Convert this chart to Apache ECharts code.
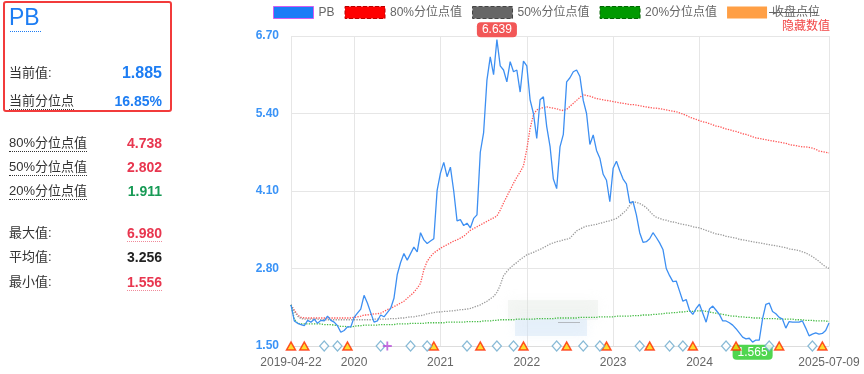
<!DOCTYPE html>
<html><head><meta charset="utf-8">
<script src="https://cdn.jsdelivr.net/npm/echarts@6/dist/echarts.min.js"></script>
<style>
html,body{margin:0;padding:0;background:#fff;}
#wrap{position:relative;width:864px;height:374px;overflow:hidden;font-family:"Liberation Sans",Arial,"Noto Sans CJK SC",sans-serif;}
#chart{position:absolute;left:0;top:0;width:864px;height:374px;}
#panel{position:absolute;left:0;top:0;width:180px;height:374px;}
.box{position:absolute;left:3px;top:1px;width:165px;height:107px;border:2px solid #f23b3b;border-radius:3px;}
.pb{position:absolute;left:9px;top:3px;font-size:23px;color:#1d7df3;line-height:28px;}
.pbline{position:absolute;left:10px;top:31px;width:31px;border-top:1px dotted #1d7df3;}
.row{position:absolute;left:9px;width:153px;height:20px;line-height:20px;}
.lab{position:absolute;left:0;top:0;font-size:13px;color:#333;}
.val{position:absolute;right:0;top:0;font-weight:bold;font-size:14px;}
.dot{display:inline-block;line-height:16px;border-bottom:1px dotted #333;}
.dotr{display:inline-block;line-height:16px;border-bottom:1px dotted #f08a9a;}
</style>
</head><body>
<div id="wrap">
  <div id="chart"></div>
  <div id="panel">
    <div class="box"></div>
    <div class="pb">PB</div>
    <div class="pbline"></div>
    <div class="row" style="top:63px"><span class="lab">当前值:</span><span class="val" style="color:#1d7df3;font-size:16px">1.885</span></div>
    <div class="row" style="top:91px"><span class="lab"><span class="dot">当前分位点</span></span><span class="val" style="color:#1d7df3;font-size:14px">16.85%</span></div>
    <div class="row" style="top:133px"><span class="lab"><span class="dot">80%分位点值</span></span><span class="val" style="color:#e8364f">4.738</span></div>
    <div class="row" style="top:157px"><span class="lab"><span class="dot">50%分位点值</span></span><span class="val" style="color:#e8364f">2.802</span></div>
    <div class="row" style="top:181px"><span class="lab"><span class="dot">20%分位点值</span></span><span class="val" style="color:#179a55">1.911</span></div>
    <div class="row" style="top:223px"><span class="lab">最大值:</span><span class="val" style="color:#e8364f"><span class="dotr">6.980</span></span></div>
    <div class="row" style="top:247px"><span class="lab">平均值:</span><span class="val" style="color:#222">3.256</span></div>
    <div class="row" style="top:272px"><span class="lab">最小值:</span><span class="val" style="color:#e8364f"><span class="dotr">1.556</span></span></div>
  </div>
</div>
<script>
const startDate = '2019-04-22';
const endDate = '2025-07-09';
const stepDays = 14;
const yearLabels = ['2020','2021','2022','2023','2024'];

const pbValues = [
2.19,1.92,1.88,1.86,1.84,1.93,1.90,1.95,1.88,1.93,
1.92,2.00,1.93,1.90,1.84,1.73,1.76,1.82,1.82,1.98,
2.05,2.12,2.35,2.22,2.06,1.90,1.92,2.02,1.99,2.06,
2.13,2.30,2.70,2.90,3.05,2.94,3.05,3.16,3.08,3.40,
3.28,3.22,3.26,3.30,4.11,4.40,4.58,4.34,4.50,4.10,
3.60,3.62,3.52,3.56,3.48,3.64,3.70,4.75,5.08,5.96,
6.35,6.05,6.639,6.20,6.13,5.93,6.27,6.10,6.13,5.76,
6.28,6.20,5.63,5.40,4.98,5.63,5.68,5.18,4.85,4.30,
4.14,4.84,5.05,5.93,6.00,6.10,6.13,6.02,5.62,5.40,
4.88,5.04,4.78,4.65,4.38,4.28,3.92,4.48,4.60,4.44,
4.30,4.22,3.90,3.92,3.70,3.40,3.24,3.25,3.30,3.40,
3.32,3.23,3.12,2.80,2.68,2.58,2.59,2.42,2.25,2.28,
2.10,2.03,2.13,2.20,2.05,1.90,2.12,2.17,2.10,2.03,
1.92,1.92,1.89,1.85,1.79,1.72,1.65,1.62,1.63,1.565,
1.60,1.60,1.96,2.20,2.22,2.08,2.04,1.98,1.95,1.80,
1.91,1.90,1.90,1.90,1.92,1.80,1.67,1.70,1.72,1.70,
1.71,1.76,1.885
];
const p80Values = [
2.19,2.10,2.02,1.98,1.97,1.97,1.97,1.97,1.97,1.97,
1.97,1.97,1.97,1.97,1.97,1.97,1.97,1.97,1.97,1.98,
1.99,2.00,2.02,2.02,2.03,2.04,2.04,2.05,2.08,2.11,
2.13,2.16,2.19,2.22,2.25,2.30,2.35,2.40,2.47,2.55,
2.78,2.92,3.00,3.06,3.10,3.14,3.17,3.20,3.23,3.26,
3.28,3.31,3.34,3.39,3.44,3.47,3.50,3.53,3.56,3.59,
3.62,3.65,3.68,3.78,3.90,4.01,4.12,4.23,4.33,4.42,
4.52,4.80,5.15,5.38,5.46,5.48,5.50,5.51,5.50,5.49,
5.48,5.46,5.45,5.47,5.52,5.57,5.62,5.67,5.72,5.70,
5.69,5.67,5.65,5.64,5.63,5.62,5.61,5.60,5.59,5.58,
5.57,5.56,5.55,5.55,5.54,5.53,5.52,5.51,5.50,5.49,
5.49,5.48,5.47,5.46,5.45,5.44,5.43,5.41,5.39,5.37,
5.34,5.32,5.30,5.28,5.26,5.25,5.23,5.21,5.19,5.18,
5.16,5.14,5.13,5.11,5.10,5.08,5.06,5.05,5.03,5.01,
4.99,4.98,4.97,4.96,4.95,4.94,4.93,4.92,4.91,4.90,
4.88,4.87,4.86,4.85,4.84,4.84,4.83,4.82,4.80,4.77,
4.76,4.75,4.738
];
const p50Values = [
2.19,2.08,2.00,1.96,1.95,1.95,1.95,1.95,1.95,1.94,
1.94,1.94,1.94,1.94,1.94,1.94,1.94,1.94,1.94,1.94,
1.94,1.94,1.94,1.94,1.94,1.95,1.95,1.95,1.95,1.95,
1.96,1.96,1.96,1.97,1.97,1.98,1.99,1.99,2.00,2.01,
2.02,2.04,2.05,2.06,2.07,2.07,2.08,2.08,2.09,2.09,
2.10,2.11,2.11,2.12,2.13,2.15,2.17,2.19,2.22,2.25,
2.29,2.33,2.40,2.52,2.68,2.75,2.81,2.86,2.90,2.95,
2.99,3.03,3.05,3.07,3.10,3.12,3.15,3.18,3.21,3.23,
3.25,3.26,3.28,3.29,3.31,3.37,3.43,3.46,3.49,3.51,
3.52,3.53,3.54,3.56,3.57,3.59,3.60,3.62,3.64,3.68,
3.73,3.78,3.86,3.92,3.91,3.89,3.86,3.82,3.76,3.70,
3.66,3.64,3.62,3.61,3.59,3.58,3.57,3.55,3.54,3.53,
3.52,3.50,3.49,3.48,3.46,3.44,3.42,3.40,3.38,3.37,
3.36,3.34,3.33,3.32,3.31,3.29,3.28,3.27,3.26,3.25,
3.24,3.23,3.22,3.21,3.20,3.19,3.18,3.17,3.16,3.15,
3.13,3.12,3.11,3.10,3.08,3.06,3.03,3.00,2.96,2.92,
2.87,2.83,2.802
];
const p20Values = [
2.19,1.95,1.88,1.87,1.87,1.87,1.87,1.87,1.87,1.87,
1.86,1.86,1.86,1.85,1.84,1.83,1.83,1.82,1.82,1.83,
1.84,1.84,1.85,1.85,1.85,1.85,1.85,1.86,1.86,1.86,
1.86,1.86,1.87,1.87,1.87,1.87,1.88,1.88,1.88,1.88,
1.88,1.89,1.89,1.89,1.89,1.89,1.89,1.90,1.90,1.90,
1.90,1.90,1.90,1.91,1.91,1.91,1.91,1.91,1.92,1.92,
1.92,1.93,1.93,1.94,1.94,1.94,1.94,1.94,1.95,1.95,
1.95,1.95,1.95,1.95,1.96,1.96,1.96,1.96,1.96,1.96,
1.97,1.97,1.97,1.97,1.97,1.97,1.97,1.98,1.98,1.98,
1.98,1.98,1.98,1.99,1.99,1.99,1.99,1.99,2.00,2.00,
2.00,2.00,2.00,2.01,2.01,2.01,2.02,2.02,2.02,2.03,
2.03,2.04,2.04,2.05,2.05,2.06,2.06,2.07,2.07,2.08,
2.08,2.08,2.09,2.09,2.09,2.08,2.07,2.06,2.05,2.04,
2.03,2.02,2.01,2.00,2.00,1.99,1.99,1.98,1.98,1.97,
1.97,1.97,1.96,1.96,1.96,1.96,1.96,1.95,1.95,1.95,
1.95,1.95,1.94,1.94,1.94,1.93,1.93,1.93,1.92,1.92,
1.92,1.92,1.911
];
const yMin = 1.5, yMax = 6.7, yStep = 1.3;
const triangleDates = ['2019-04-22','2019-06-24','2019-12-23','2020-12-21','2021-06-28','2021-12-27','2022-06-27','2022-12-19','2023-06-12','2023-12-11','2024-06-17','2024-12-16','2025-06-16'];
const diamondDates = ['2019-09-12','2019-11-08','2020-05-06','2020-09-09','2020-11-12','2021-05-10','2021-09-12','2021-11-14','2022-05-14','2022-09-09','2022-11-09','2023-05-03','2023-08-31','2023-10-31','2024-04-25','2024-10-28','2025-04-29'];
const plusDates = ['2020-06-06'];
const legendNames = ['PB','80%分位点值','50%分位点值','20%分位点值','收盘点位'];

function fmt(d){const m=d.getUTCMonth()+1, dd=d.getUTCDate();return d.getUTCFullYear()+'-'+(m<10?'0':'')+m+'-'+(dd<10?'0':'')+dd;}
function toMs(s){const p=s.split('-');return Date.UTC(+p[0],+p[1]-1,+p[2]);}
const N = pbValues.length;
const t0 = toMs(startDate);
const categories = [];
for (let i=0;i<N;i++) categories.push(fmt(new Date(t0 + i*stepDays*86400000)));
categories[N-1] = endDate;
const catMs = categories.map(toMs);
const showIdx = new Set([0, N-1]);
for (let i=1;i<N-1;i++) {
  const y = categories[i].slice(0,4);
  if (y!==categories[i-1].slice(0,4) && yearLabels.indexOf(y)>=0) showIdx.add(i);
}
function nearest(s){const t=toMs(s);let b=0,bd=Infinity;catMs.forEach((m,i)=>{const d=Math.abs(m-t);if(d<bd){bd=d;b=i;}});return categories[b];}
const markerY = yMin;

const chart = echarts.init(document.getElementById('chart'));
const font = '"Liberation Sans", Arial, "Noto Sans CJK SC", sans-serif';
chart.setOption({
  animation:false,
  textStyle:{fontFamily:font},
  grid:{left:291,right:35,top:36,bottom:28},
  legend:{
    left:273, top:6, padding:0, itemWidth:40, itemHeight:12, itemGap:10, selectedMode:false,
    textStyle:{color:'#666', fontSize:12, fontFamily:font},
    data:[
      {name:legendNames[0], icon:'rect', itemStyle:{color:'#1a7cf7', borderColor:'#d35cf2', borderWidth:1}},
      {name:legendNames[1], icon:'rect', itemStyle:{color:'#ff0000', borderColor:'#bb0000', borderWidth:1, borderType:'dashed'}},
      {name:legendNames[2], icon:'rect', itemStyle:{color:'#666666', borderColor:'#444444', borderWidth:1, borderType:'dashed'}},
      {name:legendNames[3], icon:'rect', itemStyle:{color:'#009900', borderColor:'#006600', borderWidth:1, borderType:'dashed'}},
      {name:legendNames[4], icon:'rect', itemStyle:{color:'#ff9f45', borderWidth:0}}
    ]
  },
  xAxis:{
    type:'category', data:categories, boundaryGap:false,
    axisLine:{lineStyle:{color:'#dddddd'}}, axisTick:{show:false},
    axisLabel:{interval:(i)=>showIdx.has(i), formatter:(v,i)=>(i===0||i===N-1)?v:v.slice(0,4), color:'#666', fontSize:12, margin:11, hideOverlap:false, showMaxLabel:true},
    splitLine:{show:true, interval:(i)=>showIdx.has(i), lineStyle:{color:'#e6e6e6'}}
  },
  yAxis:{
    type:'value', min:yMin, max:yMax, interval:yStep,
    axisLine:{show:false}, axisTick:{show:false},
    axisLabel:{formatter:(v)=>v.toFixed(2), color:'#3a93f7', fontWeight:'bold', fontSize:12, margin:12},
    splitLine:{lineStyle:{color:'#e6e6e6'}}
  },
  graphic:[
    {type:'rect', shape:{x:508,y:300,width:90,height:20}, style:{fill:'rgba(222,228,222,0.3)', shadowBlur:12, shadowColor:'rgba(222,228,222,0.5)'}, silent:true, z:1},
    {type:'rect', shape:{x:515,y:319,width:72,height:17}, style:{fill:'rgba(205,224,244,0.4)', shadowBlur:12, shadowColor:'rgba(205,224,244,0.5)'}, silent:true, z:1},
    {type:'rect', shape:{x:558,y:322,width:22,height:1}, style:{fill:'rgba(120,120,120,0.45)'}, silent:true, z:2},
    {type:'text', left:782, top:21, style:{text:'隐藏数值', fill:'#f24646', fontSize:12, fontFamily:font}, z:10},
    {type:'line', shape:{x1:769,y1:12.5,x2:818,y2:12.5}, style:{stroke:'#666', lineWidth:1}, z:10}
  ],
  series:[
    {name:legendNames[1], type:'line', data:p80Values, showSymbol:false, symbol:'none', lineStyle:{color:'#ff5555', width:1.3, type:'dotted'}, itemStyle:{color:'#ff0000'}, z:2},
    {name:legendNames[2], type:'line', data:p50Values, showSymbol:false, symbol:'none', lineStyle:{color:'#9a9a9a', width:1.3, type:'dotted'}, itemStyle:{color:'#666666'}, z:2},
    {name:legendNames[3], type:'line', data:p20Values, showSymbol:false, symbol:'none', lineStyle:{color:'#44bb44', width:1.3, type:'dotted'}, itemStyle:{color:'#009900'}, z:2},
    {name:legendNames[0], type:'line', data:pbValues, showSymbol:false, symbol:'none', lineStyle:{color:'#3d8ff2', width:1.3}, itemStyle:{color:'#1a7cf7'}, z:3,
      markPoint:{symbol:'circle', symbolSize:1, itemStyle:{color:'transparent'},
        data:[
          {type:'max', label:{show:true, position:'top', distance:2, formatter:(p)=>Number(p.value).toFixed(3), color:'#fff', fontSize:12, backgroundColor:'#f25757', borderRadius:4, padding:[2,5,1,5]}},
          {type:'min', label:{show:true, position:'bottom', distance:2, formatter:(p)=>Number(p.value).toFixed(3), color:'#fff', fontSize:12, backgroundColor:'#4fd64f', borderRadius:4, padding:[2,5,1,5]}}
        ]}
    },
    {name:legendNames[4], type:'line', data:[], itemStyle:{color:'#ff9f45'}},
    {name:'tri', type:'scatter', data:triangleDates.map(d=>[nearest(d), markerY]), symbol:'triangle', symbolSize:[9,8], clip:false, silent:true, z:5,
      itemStyle:{color:'#ffd400', borderColor:'#ff2a00', borderWidth:1.5}},
    {name:'dia', type:'scatter', data:diamondDates.map(d=>[nearest(d), markerY]), symbol:'diamond', symbolSize:[9,10], clip:false, silent:true, z:5,
      itemStyle:{color:'#ffffff', borderColor:'#6aa9cc', borderWidth:1.2}},
    {name:'plus', type:'scatter', data:plusDates.map(d=>[nearest(d), markerY]), symbol:'path://M4,0H6V4H10V6H6V10H4V6H0V4H4Z', symbolSize:9, clip:false, silent:true, z:5,
      itemStyle:{color:'#b84fd8'}}
  ]
});
</script>
</body></html>
